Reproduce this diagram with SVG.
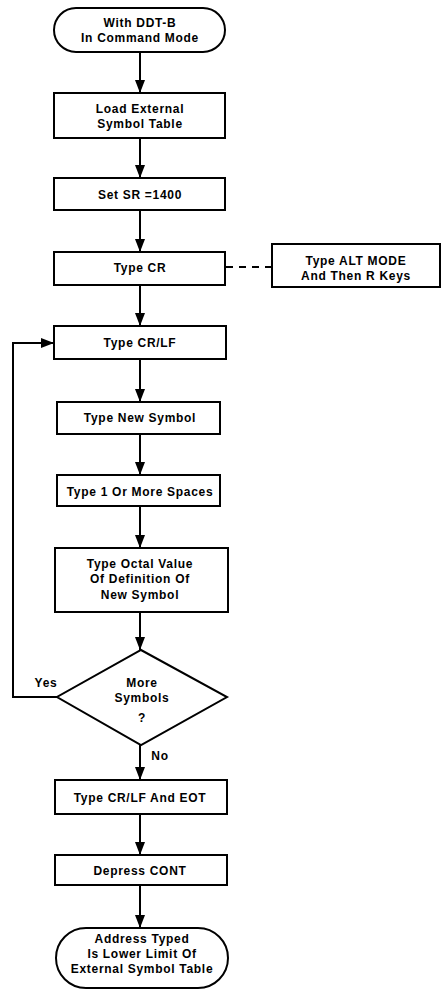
<svg xmlns="http://www.w3.org/2000/svg" width="443" height="993" viewBox="0 0 443 993">
<defs>
<marker id="ah" markerWidth="13" markerHeight="10" refX="13" refY="5" orient="auto" markerUnits="userSpaceOnUse" viewBox="0 0 13 10">
<path d="M0,0 L13,5 L0,10 Z" fill="#000"/>
</marker>
<style>
.n{fill:#fff;stroke:#000;stroke-width:2}
.t{font-family:"Liberation Sans",Arial,sans-serif;font-size:12px;font-weight:bold;letter-spacing:0.7px;text-anchor:middle;fill:#000}
.c{fill:none;stroke:#000;stroke-width:2}
</style>
</defs>
<rect width="443" height="993" fill="#fff"/>
<g id="connectors">
<line class="c" x1="140" y1="52" x2="140" y2="93" marker-end="url(#ah)"/>
<line class="c" x1="140" y1="138" x2="140" y2="178" marker-end="url(#ah)"/>
<line class="c" x1="140" y1="210" x2="140" y2="252" marker-end="url(#ah)"/>
<line class="c" x1="140" y1="285" x2="140" y2="326" marker-end="url(#ah)"/>
<line class="c" x1="140" y1="359" x2="140" y2="402" marker-end="url(#ah)"/>
<line class="c" x1="140" y1="434" x2="140" y2="475" marker-end="url(#ah)"/>
<line class="c" x1="140" y1="506" x2="140" y2="548" marker-end="url(#ah)"/>
<line class="c" x1="140" y1="612" x2="140" y2="650" marker-end="url(#ah)"/>
<line class="c" x1="140" y1="745" x2="140" y2="780" marker-end="url(#ah)"/>
<line class="c" x1="140" y1="814" x2="140" y2="855" marker-end="url(#ah)"/>
<line class="c" x1="140" y1="885" x2="140" y2="928" marker-end="url(#ah)"/>
<polyline class="c" points="57,697 13,697 13,343 54,343" marker-end="url(#ah)"/>
<line class="c" x1="226" y1="267" x2="272" y2="267" stroke-dasharray="7,6"/>
<text class="t" x="46" y="687">Yes</text>
<text class="t" x="160" y="760">No</text>
</g>
<g id="start">
<rect class="n" x="54" y="8" width="171" height="44" rx="22" ry="22"/>
<text class="t" x="140" y="27">With DDT-B</text>
<text class="t" x="140" y="42">In Command Mode</text>
</g>
<g id="load">
<rect class="n" x="54" y="93" width="171" height="45"/>
<text class="t" x="140" y="113">Load External</text>
<text class="t" x="140" y="128">Symbol Table</text>
</g>
<g id="setsr">
<rect class="n" x="54" y="178" width="171" height="32"/>
<text class="t" x="140" y="199">Set SR =1400</text>
</g>
<g id="typecr">
<rect class="n" x="54" y="252" width="171" height="33"/>
<text class="t" x="140" y="272">Type CR</text>
</g>
<g id="altmode">
<rect class="n" x="272" y="244" width="168" height="43"/>
<text class="t" x="356" y="265">Type ALT MODE</text>
<text class="t" x="356" y="280">And Then R Keys</text>
</g>
<g id="crlf">
<rect class="n" x="54" y="326" width="172" height="33"/>
<text class="t" x="140" y="347">Type CR/LF</text>
</g>
<g id="newsym">
<rect class="n" x="57" y="402" width="163" height="32"/>
<text class="t" x="140" y="422">Type New Symbol</text>
</g>
<g id="spaces">
<rect class="n" x="57" y="475" width="163" height="31"/>
<text class="t" x="140" y="496">Type 1 Or More Spaces</text>
</g>
<g id="octal">
<rect class="n" x="55" y="548" width="173" height="64"/>
<text class="t" x="140" y="568">Type Octal Value</text>
<text class="t" x="140" y="583">Of Definition Of</text>
<text class="t" x="140" y="599">New Symbol</text>
</g>
<g id="decision">
<polygon class="n" points="141,650 227,697 141,745 57,697"/>
<text class="t" x="142" y="687">More</text>
<text class="t" x="142" y="702">Symbols</text>
<text class="t" x="142" y="722">?</text>
</g>
<g id="eot">
<rect class="n" x="55" y="780" width="172" height="34"/>
<text class="t" x="140" y="802">Type CR/LF And EOT</text>
</g>
<g id="cont">
<rect class="n" x="55" y="855" width="172" height="30"/>
<text class="t" x="140" y="875">Depress CONT</text>
</g>
<g id="end">
<rect class="n" x="56" y="928" width="172" height="60" rx="30" ry="30"/>
<text class="t" x="142" y="943">Address Typed</text>
<text class="t" x="142" y="958">Is Lower Limit Of</text>
<text class="t" x="142" y="973">External Symbol Table</text>
</g>
</svg>
